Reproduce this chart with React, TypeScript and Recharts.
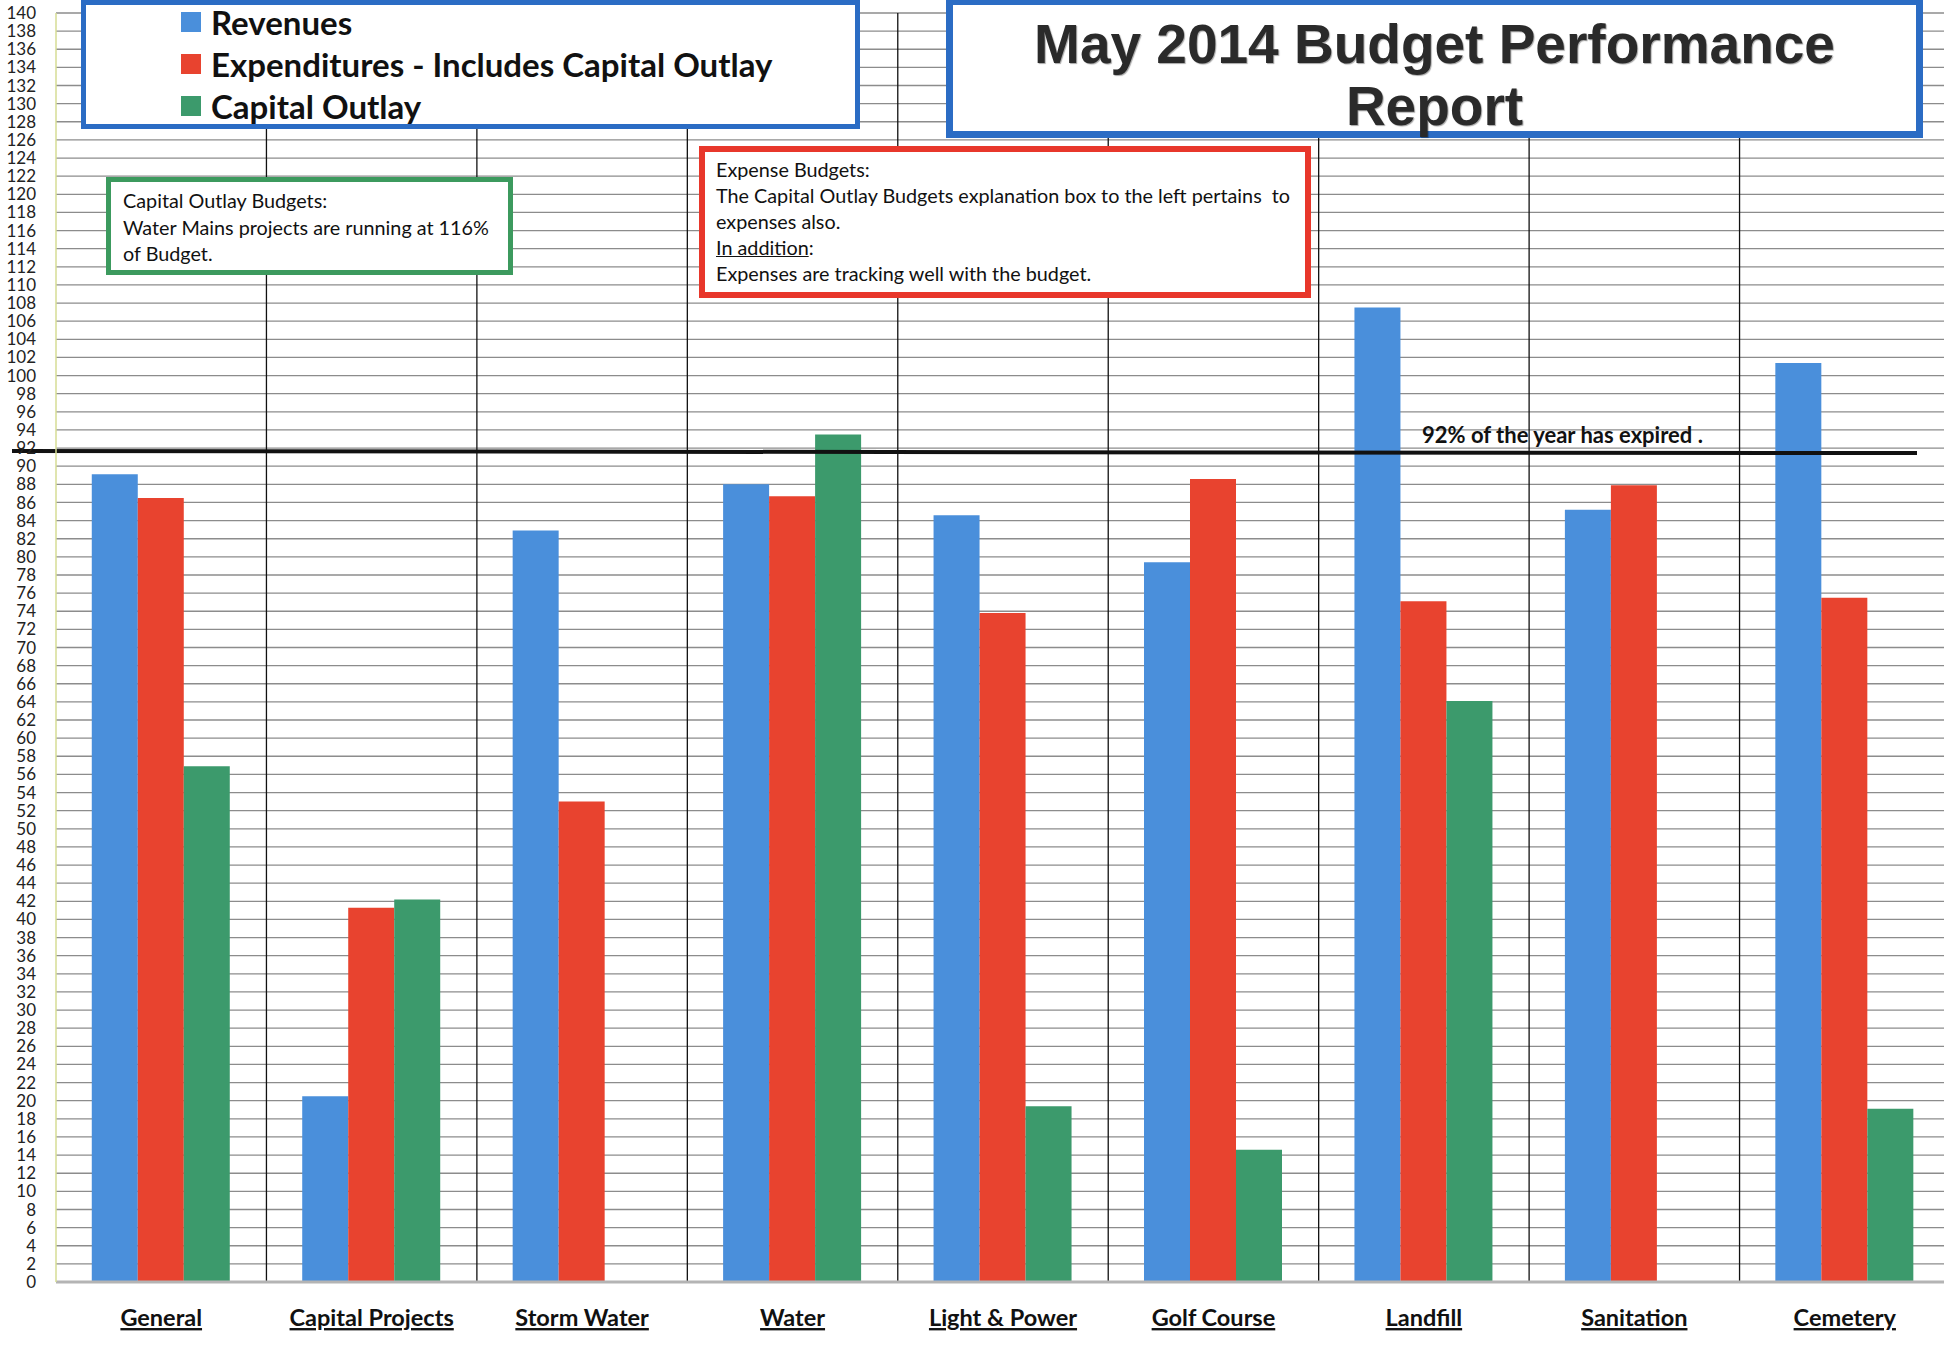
import React from 'react'
import {
    BarChart,
    Bar,
    XAxis,
    YAxis,
    CartesianGrid,
    ReferenceLine,
} from 'recharts'

const categories = ['General', 'Capital Projects', 'Storm Water', 'Water', 'Light & Power', 'Golf Course', 'Landfill', 'Sanitation', 'Cemetery']
const revenues = [89.1, 20.5, 82.9, 88.0, 84.6, 79.4, 107.5, 85.2, 101.4]
const expenditures = [86.5, 41.3, 53.0, 86.7, 73.8, 88.6, 75.1, 87.9, 75.5]
const capitalOutlay: (number | null)[] = [56.9, 42.2, null, 93.5, 19.4, 14.6, 64.1, null, 19.1]

const yTicks = [
    0, 2, 4, 6, 8, 10, 12, 14, 16, 18, 20, 22, 24, 26, 28, 30, 32, 34, 36, 38, 40,
    42, 44, 46, 48, 50, 52, 54, 56, 58, 60, 62, 64, 66, 68, 70, 72, 74, 76, 78, 80,
    82, 84, 86, 88, 90, 92, 94, 96, 98, 100, 102, 104, 106, 108, 110, 112, 114, 116,
    118, 120, 122, 124, 126, 128, 130, 132, 134, 136, 138, 140,
]

const yearExpired = 92
const yearExpiredLabel = '92% of the year has expired .'

const legendItems = [
    { name: 'Revenues', color: '#4a8fdb' },
    { name: 'Expenditures - Includes Capital Outlay', color: '#e8432f' },
    { name: 'Capital Outlay', color: '#3c9a6c' },
]

const data = categories.map((name, i) => ({
    name,
    revenues: revenues[i],
    expenditures: expenditures[i],
    capital: capitalOutlay[i],
}))

const FONT = 'Lato, "Open Sans", sans-serif'

// x labels: bold + underlined, sitting well below the axis
const CategoryTick = ({ x, y, payload }: any) => (
    <text
        x={x}
        y={y + 30}
        textAnchor="middle"
        dominantBaseline="middle"
        fontFamily={FONT}
        fontWeight={700}
        fontSize={23.5}
        fill="#111"
        textDecoration="underline"
    >
        {payload.value}
    </text>
)

const ExpiredLine = (props: any) => (
    <line x1={props.x1 - 44} y1={props.y1 + 3} x2={props.x2 - 33} y2={props.y2 + 5} stroke="#111" strokeWidth={4} />
)

const ExpiredLabel = ({ viewBox }: any) => (
    <text
        x={viewBox.x + 1366}
        y={viewBox.y - 11}
        fontFamily={FONT}
        fontWeight={700}
        fontSize={22}
        fill="#111"
        dominantBaseline="middle"
    >
        {yearExpiredLabel}
    </text>
)

export default function App() {
    return (
        <div style={{ position: 'absolute', left: 0, top: 0, width: 1944, height: 1348, overflow: 'hidden', background: '#fff' }}>
            <BarChart
                width={1950}
                height={1348}
                data={data}
                margin={{ top: 13, right: 0, left: 0, bottom: 0 }}
                barCategoryGap="17%"
                barGap={0}
            >
                <CartesianGrid horizontal vertical={false} stroke="#8c8c8c" strokeWidth={1.3} />
                <CartesianGrid
                    horizontal={false}
                    vertical
                    stroke="#111"
                    strokeWidth={1.3}
                    verticalCoordinatesGenerator={({ offset }: any) =>
                        categories.slice(1).map((_, i) => offset.left + (offset.width * (i + 1)) / categories.length)
                    }
                />
                <XAxis
                    dataKey="name"
                    height={66}
                    axisLine={{ stroke: '#b4b4b4', strokeWidth: 3 }}
                    tickLine={false}
                    interval={0}
                    tick={<CategoryTick />}
                />
                <YAxis
                    width={56}
                    domain={[0, 140]}
                    ticks={yTicks}
                    interval={0}
                    tickSize={0}
                    tickMargin={20}
                    axisLine={{ stroke: '#d6dc95', strokeWidth: 1.5 }}
                    tick={{ fontFamily: FONT, fontSize: 17, fill: '#222' }}
                />
                <Bar dataKey="revenues" fill={legendItems[0].color} isAnimationActive={false} />
                <Bar dataKey="expenditures" fill={legendItems[1].color} isAnimationActive={false} />
                <Bar dataKey="capital" fill={legendItems[2].color} isAnimationActive={false} />
                <ReferenceLine y={yearExpired} shape={<ExpiredLine />} label={<ExpiredLabel />} />
            </BarChart>

            {/* legend box */}
            <div
                style={{
                    position: 'absolute', left: 81, top: 0, width: 769, height: 119,
                    border: '5px solid #2b6cc4', background: '#fff', fontFamily: FONT,
                }}
            >
                {legendItems.map((item, i) => (
                    <div
                        key={item.name}
                        style={{
                            position: 'absolute', left: 95, top: -3 + i * 42, height: 40,
                            display: 'flex', alignItems: 'center', fontWeight: 700, fontSize: 33, color: '#111',
                            whiteSpace: 'nowrap',
                        }}
                    >
                        <span style={{ display: 'inline-block', width: 20, height: 20, background: item.color, marginRight: 10 }} />
                        {item.name}
                    </div>
                ))}
            </div>

            {/* title box */}
            <div
                style={{
                    position: 'absolute', left: 946, top: -2, width: 977, height: 140,
                    border: '7px solid #2b6cc4', background: '#fff', textAlign: 'center',
                    fontFamily: '"Liberation Sans", Arial, sans-serif', fontWeight: 700, fontSize: 55,
                    lineHeight: '62px', color: '#2a2a2a', boxSizing: 'border-box',
                    textShadow: '1px 1px 1px rgba(0,0,0,0.35)',
                }}
            >
                <div style={{ height: 62, marginTop: 8 }}>May 2014 Budget Performance</div>
                <div style={{ height: 62 }}>Report</div>
            </div>

            {/* capital outlay note */}
            <div
                style={{
                    position: 'absolute', left: 106, top: 177, width: 407, height: 98,
                    border: '5px solid #3c9a5e', background: '#fff', fontFamily: FONT,
                    fontSize: 19.8, lineHeight: '26.5px', color: '#111', padding: '5px 0 0 12px', boxSizing: 'border-box',
                    whiteSpace: 'nowrap',
                }}
            >
                <div>Capital Outlay Budgets:</div>
                <div>Water Mains projects are running at 116%</div>
                <div>of Budget.</div>
            </div>

            {/* expense note */}
            <div
                style={{
                    position: 'absolute', left: 699, top: 146, width: 612, height: 152,
                    border: '6px solid #e8372b', background: '#fff', fontFamily: FONT,
                    fontSize: 19.8, lineHeight: '26px', color: '#111', padding: '4px 0 0 11px', boxSizing: 'border-box',
                    whiteSpace: 'nowrap',
                }}
            >
                <div>Expense Budgets:</div>
                <div>The Capital Outlay Budgets explanation box to the left pertains&nbsp; to</div>
                <div>expenses also.</div>
                <div><u>In addition</u>:</div>
                <div>Expenses are tracking well with the budget.</div>
            </div>
        </div>
    )
}
